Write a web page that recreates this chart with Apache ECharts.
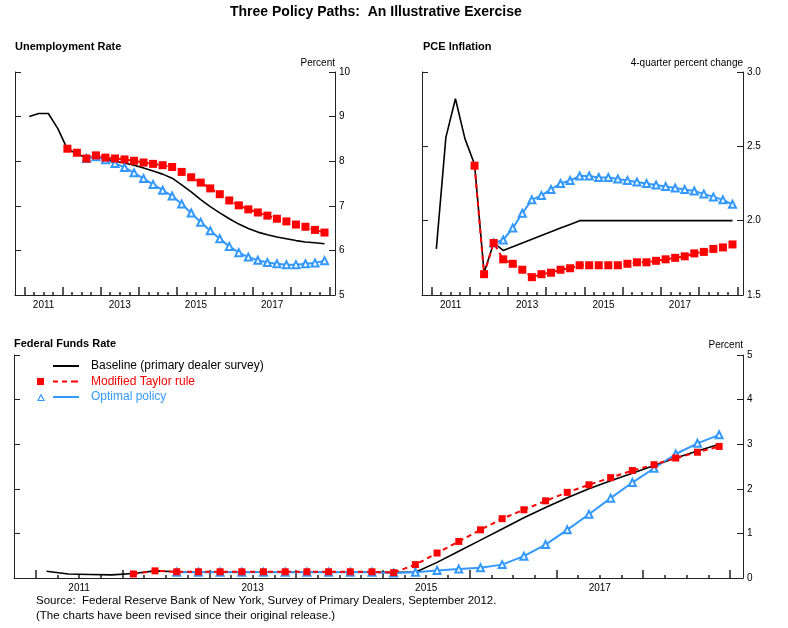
<!DOCTYPE html>
<html>
<head>
<meta charset="utf-8">
<title>Three Policy Paths</title>
<style>html,body{margin:0;padding:0;background:#fff;}</style>
</head>
<body>
<div id="main" style="width:788px;height:628px;"></div>
<script src="https://cdn.jsdelivr.net/npm/echarts@6/dist/echarts.min.js"></script>
<script>
// quarterly observations, plotted at the middle of each quarter
var quarters = ['2011Q1','2011Q2','2011Q3','2011Q4','2012Q1','2012Q2','2012Q3','2012Q4',
                '2013Q1','2013Q2','2013Q3','2013Q4','2014Q1','2014Q2','2014Q3','2014Q4',
                '2015Q1','2015Q2','2015Q3','2015Q4','2016Q1','2016Q2','2016Q3','2016Q4',
                '2017Q1','2017Q2','2017Q3','2017Q4','2018Q1','2018Q2','2018Q3','2018Q4'];

var majorYears = [2011, 2012, 2013, 2014, 2015, 2016, 2017, 2018, 2019];
var labelYears = [2011, 2013, 2015, 2017];

var unempBaseline = [9.0, 9.07, 9.07, 8.73, 8.27, 8.17, 8.07, 8.1, 8.05, 8.0, 7.96, 7.91, 7.85, 7.78, 7.71, 7.62,
                     7.47, 7.31, 7.14, 6.98, 6.84, 6.71, 6.59, 6.49, 6.41, 6.35, 6.3, 6.26, 6.22, 6.19, 6.17, 6.15];
var unempTaylor = [null, null, null, null, 8.28, 8.19, 8.06, 8.13, 8.08, 8.06, 8.04, 8.01, 7.97, 7.94, 7.91, 7.87,
                   7.76, 7.64, 7.52, 7.39, 7.26, 7.12, 7.01, 6.92, 6.85, 6.78, 6.71, 6.65, 6.58, 6.53, 6.46, 6.4];
var unempOptimal = [null, null, null, null, null, null, 8.06, 8.1, 8.03, 7.95, 7.86, 7.74, 7.61, 7.48, 7.35, 7.22,
                    7.04, 6.84, 6.63, 6.44, 6.26, 6.09, 5.95, 5.85, 5.78, 5.73, 5.70, 5.68, 5.68, 5.70, 5.72, 5.77];

var pceBaseline = [1.81, 2.56, 2.82, 2.55, 2.38, 1.65, 1.85, 1.80, 1.825, 1.85, 1.875, 1.90, 1.925, 1.95, 1.975, 2.0,
                   2.0, 2.0, 2.0, 2.0, 2.0, 2.0, 2.0, 2.0, 2.0, 2.0, 2.0, 2.0, 2.0, 2.0, 2.0, 2.0];
var pceTaylor = [null, null, null, null, 2.37, 1.64, 1.85, 1.74, 1.71, 1.67, 1.62, 1.64, 1.65, 1.67, 1.68, 1.70,
                 1.70, 1.70, 1.70, 1.70, 1.71, 1.72, 1.72, 1.73, 1.74, 1.75, 1.76, 1.78, 1.79, 1.81, 1.82, 1.84];
var pceOptimal = [null, null, null, null, null, null, 1.85, 1.87, 1.95, 2.05, 2.14, 2.17, 2.21, 2.25, 2.27, 2.30,
                  2.30, 2.29, 2.29, 2.28, 2.27, 2.26, 2.25, 2.24, 2.23, 2.22, 2.21, 2.20, 2.18, 2.16, 2.14, 2.11];

var ffBaseline = [0.15, 0.09, 0.08, 0.07, 0.10, 0.16, 0.14, 0.13, 0.13, 0.13, 0.13, 0.13, 0.13, 0.13, 0.13, 0.13,
                  0.13, 0.13, 0.35, 0.60, 0.85, 1.10, 1.35, 1.58, 1.80, 2.00, 2.18, 2.35, 2.52, 2.69, 2.85, 3.00];
var ffTaylor = [null, null, null, null, 0.09, 0.16, 0.14, 0.14, 0.14, 0.14, 0.14, 0.14, 0.14, 0.14, 0.14, 0.14,
                0.12, 0.30, 0.56, 0.82, 1.08, 1.33, 1.53, 1.73, 1.92, 2.09, 2.25, 2.41, 2.54, 2.69, 2.82, 2.95];
var ffOptimal = [null, null, null, null, null, null, 0.13, 0.13, 0.13, 0.13, 0.13, 0.13, 0.13, 0.13, 0.13, 0.13,
                 0.11, 0.13, 0.17, 0.20, 0.23, 0.30, 0.49, 0.75, 1.08, 1.43, 1.79, 2.14, 2.46, 2.78, 3.02, 3.21];

var NAME_BASE = 'Baseline (primary dealer survey)';
var NAME_TAYLOR = 'Modified Taylor rule';
var NAME_OPT = 'Optimal policy';
var BLACK = '#000000', RED = '#ff0000', BLUE = '#3399ff';
var FONT = 'Liberation Sans, Arial, sans-serif';

function qx(q) {
    return parseInt(q.slice(0, 4), 10) + (parseInt(q.slice(5), 10) - 0.5) / 4;
}
function pts(vals) {
    var out = [];
    for (var i = 0; i < vals.length; i++) {
        if (vals[i] != null) out.push([qx(quarters[i]), vals[i]]);
    }
    return out;
}

var quarterTicks = [];
for (var y = 0; y < majorYears.length - 1; y++) {
    quarterTicks.push(majorYears[y] + 0.25, majorYears[y] + 0.5, majorYears[y] + 0.75);
}
var labelPos = labelYears.map(function (v) { return v + 0.5; });

function xAxes(g) {
    return [{
        type: 'value', gridIndex: g, position: 'bottom', min: 2010.75, max: 2019.15,
        axisLine: { show: true, onZero: false, lineStyle: { color: '#222', width: 1 } },
        axisTick: { show: true, inside: true, length: 8, customValues: majorYears,
                    lineStyle: { color: '#222', width: 1.5 } },
        axisLabel: { customValues: labelPos, fontSize: 10, color: '#000', margin: 5, fontFamily: FONT,
                     formatter: function (v) { return String(Math.floor(v)); } },
        splitLine: { show: false }
    }, {
        // quarter ticks
        type: 'value', gridIndex: g, position: 'bottom', min: 2010.75, max: 2019.15,
        axisLine: { show: false, onZero: false },
        axisTick: { show: true, inside: true, length: 3, customValues: quarterTicks,
                    lineStyle: { color: '#222', width: 1.5 } },
        axisLabel: { show: false },
        splitLine: { show: false }
    }];
}

function yAxes(g, min, max, step, name, digits) {
    return [{
        type: 'value', gridIndex: g, position: 'left', min: min, max: max, interval: step,
        axisLine: { show: true, lineStyle: { color: '#222', width: 1 } },
        axisTick: { show: true, inside: true, length: 6, lineStyle: { color: '#222' } },
        axisLabel: { show: false },
        splitLine: { show: false }
    }, {
        type: 'value', gridIndex: g, position: 'right', min: min, max: max, interval: step,
        name: name, nameLocation: 'end', nameGap: 4,
        nameTextStyle: { fontSize: 10, color: '#000', align: 'right', verticalAlign: 'bottom', fontFamily: FONT },
        axisLine: { show: true, lineStyle: { color: '#222', width: 1 } },
        axisTick: { show: true, inside: true, length: 6, lineStyle: { color: '#222' } },
        axisLabel: { fontSize: 10, color: '#000', margin: 4, fontFamily: FONT,
                     formatter: function (v) { return v.toFixed(digits); } },
        splitLine: { show: false }
    }];
}

function threeSeries(g, base, taylor, opt, sqSize) {
    return [{
        type: 'line', name: NAME_BASE, xAxisIndex: 2 * g, yAxisIndex: 2 * g + 1,
        data: pts(base), symbol: 'none', showSymbol: false,
        lineStyle: { color: BLACK, width: 1.6 }, itemStyle: { color: BLACK }, z: 2
    }, {
        type: 'line', name: NAME_OPT, xAxisIndex: 2 * g, yAxisIndex: 2 * g + 1,
        data: pts(opt), symbol: 'emptyTriangle', symbolSize: 7,
        lineStyle: { color: BLUE, width: 2 }, itemStyle: { color: BLUE, borderWidth: 1.3 }, z: 3
    }, {
        type: 'line', name: NAME_TAYLOR, xAxisIndex: 2 * g, yAxisIndex: 2 * g + 1,
        data: pts(taylor), symbol: 'rect', symbolSize: sqSize,
        lineStyle: { color: RED, width: 2, type: [5, 4] }, itemStyle: { color: RED, borderWidth: 0 }, z: 4
    }];
}

var chart = echarts.init(document.getElementById('main'));
var option = {
    animation: false,
    backgroundColor: '#fff',
    textStyle: { fontFamily: FONT },
    title: [
        { text: 'Three Policy Paths:  An Illustrative Exercise', left: 230, top: 5, padding: 0,
          textStyle: { fontSize: 14, fontWeight: 'bold', color: '#000' } },
        { text: 'Unemployment Rate', left: 15, top: 41, padding: 0,
          textStyle: { fontSize: 11, fontWeight: 'bold', color: '#000' } },
        { text: 'PCE Inflation', left: 423, top: 41, padding: 0,
          textStyle: { fontSize: 11, fontWeight: 'bold', color: '#000' } },
        { text: 'Federal Funds Rate', left: 14, top: 338, padding: 0,
          textStyle: { fontSize: 11, fontWeight: 'bold', color: '#000' } },
        { text: 'Source:  Federal Reserve Bank of New York, Survey of Primary Dealers, September 2012.\n(The charts have been revised since their original release.)',
          left: 36, top: 593, padding: 0,
          textStyle: { fontSize: 11.5, fontWeight: 'normal', color: '#000', lineHeight: 15 } }
    ],
    legend: {
        orient: 'vertical', left: 37, top: 359, padding: 0,
        itemWidth: 49, itemHeight: 10, itemGap: 1.5,
        textStyle: { fontSize: 12, lineHeight: 14, fontFamily: FONT },
        data: [
            { name: NAME_BASE, icon: 'path://M0,0M49,10M16,4h26v2h-26z',
              itemStyle: { color: BLACK, borderWidth: 0 }, textStyle: { color: BLACK } },
            { name: NAME_TAYLOR, icon: 'path://M0,0M49,10M0,1.5h7v7h-7zM16,4h5v2h-5zM25,4h5v2h-5zM34,4h7v2h-7z',
              itemStyle: { color: RED, borderWidth: 0 }, textStyle: { color: RED } },
            { name: NAME_OPT, icon: 'path://M0,0M49,10M0,9L4,1.5L8,9ZM1.9,7.9L6.1,7.9L4,4ZM16,4h26v2h-26z',
              itemStyle: { color: BLUE, borderWidth: 0 }, textStyle: { color: BLUE } }
        ]
    },
    grid: [
        { left: 15, top: 72, width: 320, height: 223 },
        { left: 422, top: 72, width: 321, height: 223 },
        { left: 14, top: 355, width: 729, height: 223 }
    ],
    xAxis: [].concat(xAxes(0), xAxes(1), xAxes(2)),
    yAxis: [].concat(
        yAxes(0, 5, 10, 1, 'Percent', 0),
        yAxes(1, 1.5, 3.0, 0.5, '4-quarter percent change', 1),
        yAxes(2, 0, 5, 1, 'Percent', 0)
    ),
    series: [].concat(
        threeSeries(0, unempBaseline, unempTaylor, unempOptimal, 8),
        threeSeries(1, pceBaseline, pceTaylor, pceOptimal, 8),
        threeSeries(2, ffBaseline, ffTaylor, ffOptimal, 7)
    )
};
chart.setOption(option);
</script>
</body>
</html>
